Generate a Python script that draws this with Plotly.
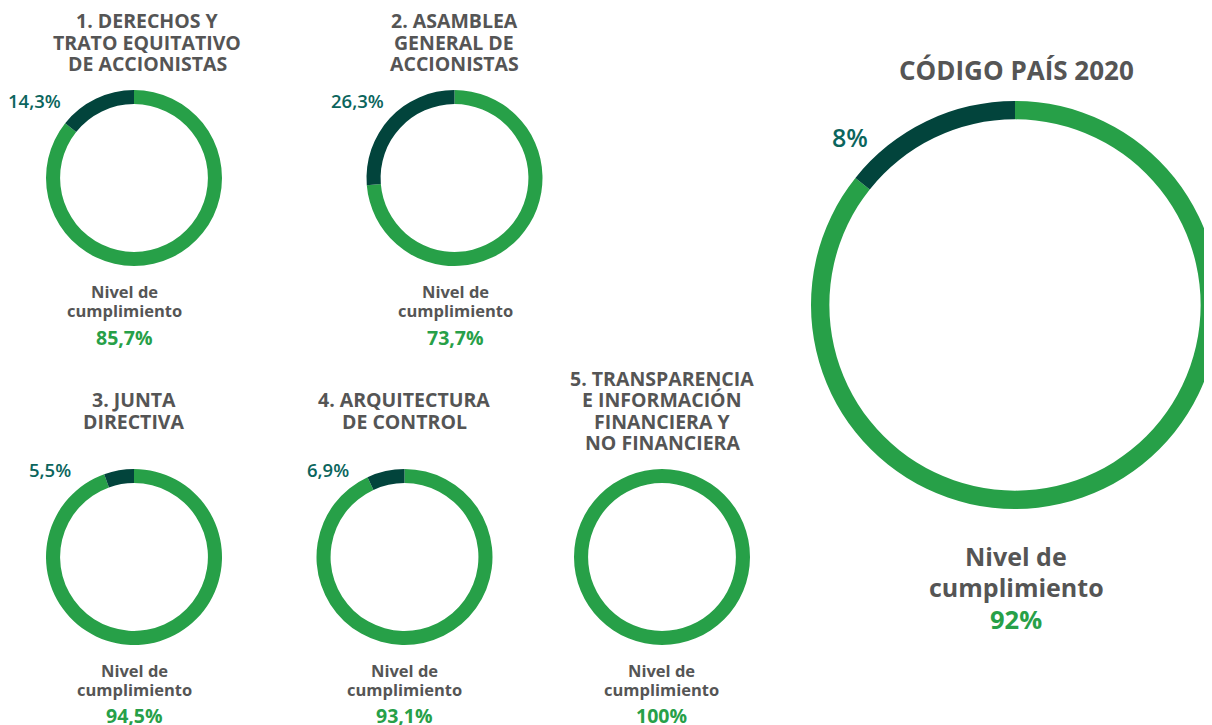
import plotly.graph_objects as go

# Nivel de cumplimiento por capítulo (Código País 2020)
titulos = [
    ["1. DERECHOS Y", "TRATO EQUITATIVO", "DE ACCIONISTAS"],
    ["2. ASAMBLEA", "GENERAL DE", "ACCIONISTAS"],
    ["3. JUNTA", "DIRECTIVA"],
    ["4. ARQUITECTURA", "DE CONTROL"],
    ["5. TRANSPARENCIA", "E INFORMACIÓN", "FINANCIERA Y", "NO FINANCIERA"],
]
cumple = [85.7, 73.7, 94.5, 93.1, 100.0]
no_cumple = [14.3, 26.3, 5.5, 6.9, 0.0]
etiq_cumple = ["85,7%", "73,7%", "94,5%", "93,1%", "100%"]
etiq_no_cumple = ["14,3%", "26,3%", "5,5%", "6,9%", ""]

pais_titulo = "CÓDIGO PAÍS 2020"
pais_etiq_cumple = "92%"
pais_etiq_no_cumple = "8%"
# the big ring in the picture is drawn with the same split as chapter 1
pais_arco = [85.7, 14.3]

VERDE = "#27a048"
OSCURO = "#02443c"
TEAL = "#0b655d"
GRIS = "#555555"
FUENTE = "Open Sans"
W, H = 1212, 725
OFF = 8  # page body margin

# centre (px on screen) and radius of each small ring
centros = [(134, 178), (454.5, 178), (134, 557), (404.5, 557), (662, 557)]
R = 88
titulo_x = [147, 454, 134, 404, 662]
titulo_y0 = [21, 21, 400, 400, 379]
etiq_pos = [(34, 100), (357, 100), (50, 469), (328, 469), None]
texto_x = [124, 455, 134, 404, 661]
nivel_y = [291, 291, 670, 670, 670]
valor_y = [337, 337, 715, 715, 715]


def dominio(cx, cy, r):
    cx, cy = cx - OFF, cy - OFF
    return dict(x=[(cx - r) / W, (cx + r) / W], y=[1 - (cy + r) / H, 1 - (cy - r) / H])


def linea(texto, x, y, size, color, weight="bold"):
    return dict(x=(x - OFF) / W, y=1 - (y - OFF) / H, xref="paper", yref="paper",
                xanchor="center", yanchor="middle", showarrow=False, text=texto,
                font=dict(family=FUENTE, size=size, color=color, weight=weight))


fig = go.Figure()
anots = []

for i in range(len(titulos)):
    cx, cy = centros[i]
    # green runs clockwise from 12 o'clock, the dark share closes the ring on the left
    fig.add_trace(go.Pie(
        values=[cumple[i], no_cumple[i]],
        labels=["Cumple", "No cumple"],
        marker=dict(colors=[VERDE, OSCURO], line=dict(width=0)),
        hole=0.84, sort=False, direction="clockwise",
        textinfo="none", hoverinfo="label+percent", showlegend=False,
        domain=dominio(cx, cy, R),
    ))
    for k, t in enumerate(titulos[i]):
        anots.append(linea(t, titulo_x[i], titulo_y0[i] + 21 * k, 19.5, GRIS))
    if etiq_pos[i]:
        anots.append(linea(etiq_no_cumple[i], *etiq_pos[i], 18.5, TEAL, 600))
    anots.append(linea("Nivel de", texto_x[i], nivel_y[i], 16.5, GRIS))
    anots.append(linea("cumplimiento", texto_x[i], nivel_y[i] + 19, 16.5, GRIS))
    anots.append(linea(etiq_cumple[i], texto_x[i], valor_y[i], 19.5, VERDE))

# big ring
fig.add_trace(go.Pie(
    values=pais_arco,
    labels=["Cumple", "No cumple"],
    marker=dict(colors=[VERDE, OSCURO], line=dict(width=0)),
    hole=0.91, sort=False, direction="clockwise",
    textinfo="none", hoverinfo="label", showlegend=False,
    domain=dominio(1015, 305, 204),
))
anots.append(linea(pais_titulo, 1016, 70, 26, GRIS))
anots.append(linea(pais_etiq_no_cumple, 850, 137, 25, TEAL, 600))
anots.append(linea("Nivel de", 1016, 556, 25, GRIS))
anots.append(linea("cumplimiento", 1016, 587, 25, GRIS))
anots.append(linea(pais_etiq_cumple, 1016, 619, 25.5, VERDE))

fig.update_layout(
    width=W, height=H,
    margin=dict(l=0, r=0, t=0, b=0),
    paper_bgcolor="white", plot_bgcolor="white",
    annotations=anots,
)

fig.write_html("out.html")
